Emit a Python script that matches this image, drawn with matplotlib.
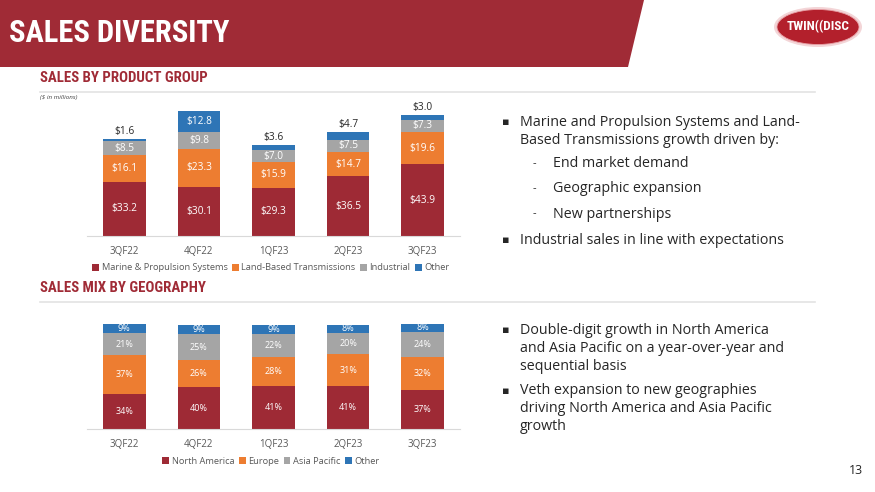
import matplotlib.pyplot as plt
from matplotlib.patches import Polygon, Ellipse
import numpy as np

W, H = 875, 492

quarters = ["3QF22", "4QF22", "1QF23", "2QF23", "3QF23"]

# sales by product group ($ millions)
marine = [33.2, 30.1, 29.3, 36.5, 43.9]
land_based = [16.1, 23.3, 15.9, 14.7, 19.6]
industrial = [8.5, 9.8, 7.0, 7.5, 7.3]
other_prod = [1.6, 12.8, 3.6, 4.7, 3.0]
prod_names = ["Marine & Propulsion Systems", "Land-Based Transmissions", "Industrial", "Other"]

# sales mix by geography (%)
north_america = [34, 40, 41, 41, 37]
europe = [37, 26, 28, 31, 32]
asia_pacific = [21, 25, 22, 20, 24]
other_geo = [9, 9, 9, 8, 8]
geo_names = ["North America", "Europe", "Asia Pacific", "Other"]

colors = ["#9E2A35", "#ED7D31", "#A5A5A5", "#2E75B6"]
RED = "#A02B36"
NARROW = ["Roboto Condensed", "Roboto", "DejaVu Sans"]
BODY = ["Open Sans", "DejaVu Sans"]

plt.rcParams['font.family'] = BODY

fig = plt.figure(figsize=(W / 100, H / 100), dpi=100)


def fx(x):
    return x / W


def fy(y):
    return 1 - y / H


def axes_px(left, top, right, bottom):
    return fig.add_axes([fx(left), fy(bottom), (right - left) / W, (bottom - top) / H])


# header banner
fig.patches.append(Polygon([[fx(0), fy(0)], [fx(644), fy(0)], [fx(628), fy(67)], [fx(0), fy(67)]],
                           closed=True, transform=fig.transFigure, facecolor=RED, edgecolor="none"))
fig.text(fx(9), fy(33), "SALES DIVERSITY", color="white", fontsize=22, fontweight="bold",
         family=NARROW, va="center", ha="left")

# logo
fig.patches.append(Ellipse((fx(818), fy(27)), 88 / W, 40 / H, transform=fig.transFigure,
                           facecolor="#F3D5D7", edgecolor="none"))
fig.patches.append(Ellipse((fx(818), fy(27)), 82 / W, 35 / H, transform=fig.transFigure,
                           facecolor="#B3202C", edgecolor="#E8A0A6", linewidth=0.6))
fig.text(fx(818), fy(27), "TWIN((DISC", color="white", fontsize=9.5, fontweight="bold",
         family=NARROW, ha="center", va="center")

# section headers
for label, y in [("SALES BY PRODUCT GROUP", 78), ("SALES MIX BY GEOGRAPHY", 288)]:
    fig.text(fx(40), fy(y), label, color=RED, fontsize=10.7, fontweight="bold", family=NARROW,
             va="center", ha="left")
    fig.lines.append(plt.Line2D([fx(40), fx(815)], [fy(y + 14), fy(y + 14)], transform=fig.transFigure,
                                color="#E3E3E3", linewidth=1.2))
fig.text(fx(40), fy(98), "($ in millions)", fontsize=4.5, style="italic", color="#404040",
         va="center", ha="left")

x = np.arange(len(quarters))
bw = 0.57

# product group chart
ax1 = axes_px(87, 100, 460, 236)
series1 = [marine, land_based, industrial, other_prod]
bottom = np.zeros(len(quarters))
for vals, c, name in zip(series1, colors, prod_names):
    ax1.bar(x, vals, bw, bottom=bottom, color=c, label=name)
    for i, v in enumerate(vals):
        txt = "${:.1f}".format(v)
        if v >= 5:
            ax1.text(x[i], bottom[i] + v / 2, txt, ha="center", va="center", color="white", fontsize=7.3)
        else:
            ax1.text(x[i], bottom[i] + v + 1.0, txt, ha="center", va="bottom", color="#262626", fontsize=7.3)
    bottom += np.array(vals)
ax1.set_ylim(0, 83)

# geography chart
ax2 = axes_px(87, 318, 460, 429)
series2 = [north_america, europe, asia_pacific, other_geo]
bottom = np.zeros(len(quarters))
for vals, c, name in zip(series2, colors, geo_names):
    ax2.bar(x, vals, bw, bottom=bottom, color=c, label=name)
    for i, v in enumerate(vals):
        ax2.text(x[i], bottom[i] + v / 2, "{}%".format(v), ha="center", va="center", color="white", fontsize=6.5)
    bottom += np.array(vals)
ax2.set_ylim(0, 106.5)

for ax in (ax1, ax2):
    ax.set_xlim(-0.5, 4.5)
    ax.set_xticks(x)
    ax.set_xticklabels(quarters)
    ax.tick_params(axis="x", length=0, pad=7, labelsize=7, labelcolor="#595959")
    ax.set_yticks([])
    for s in ["top", "right", "left"]:
        ax.spines[s].set_visible(False)
    ax.spines["bottom"].set_color("#D9D9D9")
    ax.patch.set_alpha(0)

leg_kw = dict(ncol=4, frameon=False, fontsize=6.7, handlelength=0.7, handleheight=0.7,
              handletextpad=0.3, columnspacing=0.5, labelcolor="#595959", borderpad=0, borderaxespad=0)
ax1.legend(loc="center", bbox_to_anchor=(fx(271), fy(268)), bbox_transform=fig.transFigure, **leg_kw)
ax2.legend(loc="center", bbox_to_anchor=(fx(271), fy(461)), bbox_transform=fig.transFigure, **leg_kw)

# bullet text
TXT = "#262626"


def bullet(y, lines):
    fig.text(fx(502), fy(y), "\u25aa", fontsize=8, color=TXT, va="center", ha="left", family=["DejaVu Sans"])
    for k, line in enumerate(lines):
        fig.text(fx(520), fy(y + 18 * k), line, fontsize=10.3, color=TXT, va="center", ha="left")


def dash(y, line):
    fig.text(fx(533), fy(y), "-", fontsize=8, color=TXT, va="center", ha="left")
    fig.text(fx(553), fy(y), line, fontsize=10.3, color=TXT, va="center", ha="left")


bullet(122, ["Marine and Propulsion Systems and Land-", "Based Transmissions growth driven by:"])
dash(164, "End market demand")
dash(189, "Geographic expansion")
dash(214, "New partnerships")
bullet(240, ["Industrial sales in line with expectations"])

bullet(330, ["Double-digit growth in North America", "and Asia Pacific on a year-over-year and",
             "sequential basis"])
bullet(391, ["Veth expansion to new geographies", "driving North America and Asia Pacific", "growth"])

fig.text(fx(863), fy(470), "13", fontsize=9, color=TXT, ha="right", va="center")

fig.savefig("out.png", dpi=100)
